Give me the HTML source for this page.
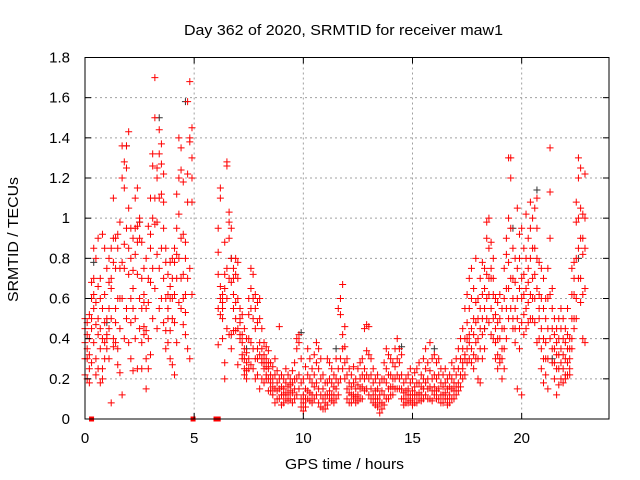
<!DOCTYPE html>
<html><head><meta charset="utf-8"><style>
body{margin:0;background:#fff}
svg{display:block;font-family:"Liberation Sans","DejaVu Sans",sans-serif}
</style></head><body>
<svg id="chart" width="640" height="480" viewBox="0 0 640 480">
<rect width="640" height="480" fill="#fff"/>
<g id="grid"></g>
<g id="marks"></g>
<g id="axes"></g>
<text x="343.5" y="35" font-size="15" text-anchor="middle" textLength="319" lengthAdjust="spacingAndGlyphs" fill="#000">Day 362 of 2020, SRMTID for receiver maw1</text>
<text x="344.5" y="469" font-size="15" text-anchor="middle" textLength="119" lengthAdjust="spacingAndGlyphs" fill="#000">GPS time / hours</text>
<text x="0" y="0" font-size="15" text-anchor="middle" textLength="125" lengthAdjust="spacingAndGlyphs" fill="#000" transform="translate(18,239.5) rotate(-90)">SRMTID / TECUs</text>
</svg>
<script>
const xTicks=[0,5,10,15,20];
const yTicks=[0,0.2,0.4,0.6,0.8,1,1.2,1.4,1.6,1.8];
const yTickLabels=["0","0.2","0.4","0.6","0.8","1","1.2","1.4","1.6","1.8"];
const redTimes=[0.0,0.1,0.2,0.3,0.4,0.5,0.6,0.7,0.8,0.9,1.0,1.1,1.2,1.3,1.4,1.5,1.6,1.7,1.8,1.9,2.0,2.1,2.2,2.3,2.4,2.5,2.6,2.7,2.8,2.9,3.0,3.1,3.2,3.3,3.4,3.5,3.6,3.7,3.8,3.9,4.0,4.1,4.2,4.3,4.4,4.5,4.6,4.7,4.8,4.9,
6.1,6.2,6.3,6.4,6.5,6.6,6.7,6.8,6.9,7.0,7.1,7.2,7.3,7.4,7.5,7.6,7.7,7.8,7.9,8.0,8.1,8.2,8.3,8.4,
8.5,8.6,8.7,8.8,8.9,9.0,9.1,9.2,9.3,9.4,9.5,9.6,9.7,9.8,9.9,10.0,10.1,10.2,10.3,10.4,10.5,10.6,10.7,10.8,10.9,11.0,11.1,11.2,11.3,11.4,11.5,11.6,11.7,11.8,11.9,12.0,12.1,12.2,12.3,12.4,12.5,12.6,12.7,12.8,12.9,13.0,13.1,13.2,13.3,13.4,13.5,13.6,13.7,13.8,13.9,14.0,14.1,14.2,14.3,14.4,14.5,14.6,14.7,14.8,14.9,15.0,15.1,15.2,15.3,15.4,15.5,15.6,15.7,15.8,15.9,16.0,16.1,16.2,16.3,16.4,16.5,16.6,16.7,16.8,16.9,17.0,17.1,17.2,
17.3,17.4,17.5,17.6,17.7,17.8,17.9,18.0,18.1,18.2,18.3,18.4,18.5,18.6,18.7,18.8,18.9,19.0,19.1,19.2,19.3,19.4,19.5,19.6,19.7,19.8,19.9,20.0,20.1,20.2,20.3,20.4,20.5,20.6,20.7,20.8,20.9,21.0,21.1,21.2,21.3,21.4,21.5,21.6,21.7,21.8,21.9,22.0,22.1,22.2,22.3,22.4,22.5,22.6,22.7,22.8,22.9];
const redValues=[
[0.3,0.45,0.38,0.22,0.5],[0.42,0.2,0.35,0.3,0.48],[0.18,0.52,0.4,0.32,0.25],[0.6,0.45,0.68,0.5,0.28],[0.7,0.85,0.55,0.38,0.62],
[0.8,0.47,0.3,0.58,0.22],[0.5,0.9,0.66,0.25,0.42],[0.18,0.35,0.6,0.45,0.7],[0.25,0.4,0.55,0.92,0.2],[0.3,0.48,0.85,0.38,0.62],
[0.4,0.5,0.35,0.75,0.42],[0.55,0.45,0.68,0.8,0.3],[0.85,0.65,0.08,0.5,0.7],[0.4,0.9,0.78,0.36,1.1],[0.38,0.48,0.75,0.9,0.55],
[0.92,0.85,0.6,0.35,0.27],[0.75,0.98,0.45,0.6,0.23],[1.36,1.2,0.6,0.12,0.78],[1.28,1.15,0.87,0.75,0.4],[1.36,1.25,0.95,0.55,0.5],
[1.43,1.05,0.72,0.38,0.85],[0.95,0.8,0.6,0.48,0.3],[0.9,0.74,0.55,0.24,0.65],[1.1,0.82,0.5,0.4,0.95],[1.15,0.96,0.72,0.25,0.88],
[0.98,0.9,0.6,0.45,1.0],[0.88,0.7,0.55,0.38,0.25],[0.75,0.46,0.62,0.58,0.42],[0.55,0.44,0.15,0.8,0.3],[0.96,0.7,0.4,0.25,0.58],
[1.1,0.92,0.68,0.32,0.85],[1.32,1.26,1.0,0.75,0.5],[1.7,1.5,0.97,0.65,1.1],[1.25,1.2,0.98,0.82,0.45],[1.44,1.32,1.1,0.75,0.55],
[1.37,1.27,1.12,0.85,0.6],[1.22,1.08,0.95,0.7,0.48],[0.85,0.78,0.6,0.35,0.44],[0.62,0.5,0.38,0.72,0.55],[0.78,0.6,0.44,0.3,0.66],
[0.8,0.7,0.6,0.5,0.27],[0.85,0.62,0.48,0.22,0.78],[1.12,0.95,0.82,0.7,0.38],[1.4,1.2,1.02,0.8,0.58],[1.35,1.24,0.9,0.7,0.55],
[1.18,0.92,0.72,0.6,0.47],[0.88,0.8,0.62,0.53,0.42],[1.58,1.22,1.08,0.7,0.35],[1.68,1.4,1.38,0.75,0.3],[1.45,1.3,1.2,1.08,0.62],
[0.95,0.83,0.72,0.55,0.37],[1.15,1.1,0.66,0.6,0.52],[0.62,0.58,0.55,0.4,0.5],[0.88,0.72,0.65,0.28,0.2],[1.28,1.26,0.75,0.6,0.45],
[1.03,0.98,0.9,0.7,0.42],[0.95,0.8,0.68,0.42,0.35],[0.75,0.7,0.62,0.55,0.44],[0.8,0.72,0.58,0.5,0.44],[0.78,0.7,0.6,0.45,0.27],
[0.55,0.5,0.48,0.42,0.4],[0.52,0.42,0.38,0.32,0.3],[0.45,0.35,0.3,0.25,0.22],[0.4,0.33,0.28,0.24,0.2],[0.6,0.52,0.4,0.3,0.25],
[0.75,0.65,0.55,0.38,0.27],[0.72,0.6,0.5,0.35,0.25],[0.62,0.55,0.45,0.3,0.2],[0.58,0.48,0.35,0.3,0.22],[0.6,0.5,0.38,0.32,0.15],
[0.45,0.35,0.3,0.28,0.2],[0.38,0.32,0.28,0.25,0.18],[0.36,0.3,0.26,0.22,0.2],[0.34,0.28,0.25,0.2,0.14],
[0.28,0.22,0.18,0.14],[0.26,0.2,0.16,0.12],[0.3,0.22,0.15,0.08],[0.24,0.18,0.14,0.1],[0.46,0.2,0.15,0.1],
[0.22,0.16,0.12,0.07],[0.2,0.15,0.12,0.08],[0.25,0.18,0.13,0.1],[0.22,0.16,0.12,0.09],[0.2,0.17,0.14,0.1],
[0.24,0.18,0.13,0.08],[0.28,0.2,0.15,0.1],[0.4,0.35,0.2,0.12],[0.42,0.38,0.22,0.15],[0.3,0.18,0.1,0.06],
[0.2,0.12,0.08,0.04],[0.26,0.15,0.1,0.06],[0.35,0.22,0.14,0.1],[0.3,0.2,0.13,0.09],[0.25,0.18,0.12,0.08],
[0.32,0.22,0.16,0.1],[0.38,0.28,0.18,0.12],[0.35,0.25,0.15,0.08],[0.3,0.2,0.12,0.06],[0.22,0.15,0.1,0.05],
[0.18,0.12,0.08,0.05],[0.3,0.18,0.12,0.07],[0.28,0.2,0.14,0.1],[0.25,0.18,0.12,0.09],[0.22,0.16,0.12,0.08],
[0.3,0.2,0.15,0.1],[0.55,0.25,0.18,0.12],[0.6,0.52,0.3,0.2],[0.67,0.42,0.35,0.25],[0.46,0.36,0.28,0.2],
[0.3,0.22,0.15,0.1],[0.25,0.18,0.13,0.08],[0.22,0.16,0.12,0.08],[0.26,0.18,0.12,0.1],[0.2,0.15,0.11,0.08],
[0.25,0.17,0.12,0.09],[0.28,0.2,0.15,0.1],[0.3,0.22,0.16,0.1],[0.45,0.25,0.2,0.14],[0.47,0.34,0.22,0.15],
[0.46,0.32,0.2,0.12],[0.3,0.22,0.15,0.1],[0.25,0.18,0.12,0.08],[0.2,0.14,0.1,0.07],[0.22,0.15,0.1,0.06],
[0.18,0.12,0.08,0.03],[0.2,0.14,0.08,0.05],[0.28,0.2,0.12,0.07],[0.35,0.25,0.18,0.1],[0.32,0.22,0.15,0.1],
[0.3,0.22,0.16,0.12],[0.28,0.2,0.16,0.12],[0.35,0.26,0.2,0.15],[0.4,0.3,0.22,0.15],[0.35,0.28,0.2,0.15],
[0.32,0.22,0.15,0.1],[0.18,0.13,0.1,0.07],[0.2,0.14,0.1,0.08],[0.22,0.15,0.12,0.08],[0.25,0.18,0.12,0.09],
[0.2,0.14,0.1,0.07],[0.23,0.16,0.12,0.08],[0.25,0.18,0.12,0.08],[0.28,0.18,0.13,0.1],[0.22,0.16,0.12,0.09],
[0.3,0.2,0.15,0.1],[0.35,0.25,0.18,0.12],[0.28,0.2,0.15,0.1],[0.38,0.24,0.16,0.1],[0.3,0.2,0.14,0.09],
[0.32,0.22,0.16,0.12],[0.28,0.2,0.14,0.1],[0.3,0.22,0.15,0.1],[0.25,0.18,0.12,0.08],[0.22,0.16,0.12,0.08],
[0.25,0.18,0.13,0.1],[0.2,0.15,0.1,0.07],[0.22,0.16,0.12,0.08],[0.28,0.2,0.15,0.1],[0.25,0.18,0.14,0.1],
[0.3,0.22,0.16,0.12],[0.35,0.25,0.18,0.14],[0.4,0.3,0.22,0.16],
[0.45,0.35,0.28,0.2,0.25],[0.55,0.4,0.3,0.22,0.32],[0.62,0.48,0.35,0.28,0.4],[0.7,0.55,0.42,0.3,0.38],[0.75,0.6,0.45,0.35,0.28],
[0.65,0.5,0.42,0.32,0.25],[0.8,0.58,0.48,0.38,0.3],[0.6,0.5,0.4,0.3,0.2],[0.7,0.55,0.45,0.35,0.18],[0.78,0.62,0.5,0.42,0.3],
[0.75,0.65,0.55,0.45,0.35],[0.98,0.9,0.72,0.6,0.5],[1.0,0.85,0.7,0.62,0.48],[0.88,0.75,0.7,0.55,0.42],[0.8,0.7,0.62,0.5,0.4],
[0.6,0.52,0.45,0.38,0.3],[0.58,0.48,0.4,0.32,0.25],[0.62,0.5,0.4,0.3,0.28],[0.55,0.45,0.35,0.3,0.2],[0.75,0.6,0.45,0.35,0.25],
[0.9,0.82,0.65,0.55,0.4],[1.3,1.0,0.78,0.65,0.5],[1.3,1.2,0.95,0.7,0.55],[0.85,0.7,0.6,0.5,0.45],[0.8,0.68,0.55,0.45,0.38],
[1.05,0.75,0.6,0.5,0.15],[0.92,0.8,0.65,0.45,0.35],[0.95,0.7,0.6,0.48,0.12],[0.85,0.72,0.62,0.52,0.42],[1.02,0.8,0.65,0.55,0.45],
[0.9,0.75,0.68,0.58,0.48],[1.08,0.95,0.8,0.62,0.5],[1.0,0.85,0.7,0.6,0.5],[1.05,0.85,0.72,0.6,0.48],[1.1,0.95,0.8,0.65,0.38],
[0.78,0.62,0.55,0.5,0.4],[0.75,0.6,0.45,0.35,0.25],[0.7,0.55,0.4,0.3,0.18],[0.6,0.5,0.38,0.3,0.22],[0.75,0.6,0.45,0.3,0.15],
[1.35,1.13,0.9,0.62,0.4],[0.65,0.55,0.45,0.35,0.28],[0.5,0.42,0.35,0.28,0.2],[0.45,0.38,0.32,0.25,0.12],[0.5,0.4,0.32,0.25,0.17],
[0.55,0.45,0.35,0.28,0.2],[0.5,0.4,0.32,0.25,0.18],[0.45,0.38,0.3,0.22,0.2],[0.55,0.42,0.35,0.28,0.22],[0.4,0.35,0.3,0.25,0.22],
[0.75,0.62,0.5,0.4,0.35],[0.78,0.7,0.62,0.5,0.45],[1.08,0.98,0.8,0.6,0.5],[1.3,1.2,1.0,0.85,0.7],[1.25,1.05,0.9,0.7,0.58],
[1.02,0.9,0.82,0.62,0.4],[1.22,1.0,0.85,0.65,0.38]];
const blackTimes=[0.4,1.0,1.9,2.5,3.4,4.6,6.7,7.4,9.9,11.5,14.5,16.0,18.3,19.6,20.7,21.4,22.6];
const blackValues=[0.78,0.48,1.36,0.98,1.5,1.58,0.8,0.35,0.43,0.35,0.36,0.35,0.45,0.95,1.14,0.3,0.8];
const zeroTimes=[0.3,4.95,6.0,6.1];

const X0=85,X1=609,Y0=419,Y1=57.5,XMAX=24,YMAX=1.8;
const xs=t=>X0+(X1-X0)*t/XMAX;
const ys=v=>Y0-(Y0-Y1)*v/YMAX;
const NS="http://www.w3.org/2000/svg";
function mk(tag,attrs,parent){const e=document.createElementNS(NS,tag);for(const k in attrs)e.setAttribute(k,attrs[k]);parent.appendChild(e);return e;}
const grid=document.getElementById('grid'),marks=document.getElementById('marks'),axes=document.getElementById('axes');

xTicks.forEach(t=>{
  if(t>0){const g=mk('line',{x1:xs(t),x2:xs(t),y1:Y1,y2:Y0,stroke:'#a0a0a0','stroke-dasharray':'2,3','stroke-width':1},grid);
  
  }
  const l=mk('text',{x:xs(t),y:Y0+24,'font-size':15,'text-anchor':'middle',fill:'#000'},axes);l.textContent=t;
  
  
  mk('line',{x1:xs(t),x2:xs(t),y1:Y0,y2:Y0-6,stroke:'#000'},axes);
  mk('line',{x1:xs(t),x2:xs(t),y1:Y1,y2:Y1+6,stroke:'#000'},axes);
});
yTicks.forEach((v,i)=>{
  if(v>0&&v<YMAX){const g=mk('line',{x1:X0,x2:X1,y1:ys(v),y2:ys(v),stroke:'#a0a0a0','stroke-dasharray':'2,3','stroke-width':1},grid);
  
  }
  const l=mk('text',{x:70,y:ys(v)+5,'font-size':15,'text-anchor':'end',fill:'#000'},axes);l.textContent=yTickLabels[i];
  
  
  mk('line',{x1:X0,x2:X0+6,y1:ys(v),y2:ys(v),stroke:'#000'},axes);
  mk('line',{x1:X1,x2:X1-6,y1:ys(v),y2:ys(v),stroke:'#000'},axes);
});
const frame=mk('rect',{x:X0,y:Y1,width:X1-X0,height:Y0-Y1,fill:'none',stroke:'#000','stroke-width':1},axes);



function cross(x,y,color,name){
  const p=mk('path',{d:`M${x-3.5},${y}H${x+3.5}M${x},${y-3.5}V${y+3.5}`,stroke:color,'stroke-width':1,fill:'none'},marks);
  
  
}
blackTimes.forEach((t,i)=>cross(xs(t),ys(blackValues[i]),'#333','black-point'));
redTimes.forEach((t,i)=>redValues[i].forEach(v=>cross(xs(t),ys(v),'#ff0000','red-point')));
zeroTimes.forEach(t=>{
  const r=mk('rect',{x:xs(t)-2.5,y:Y0-2.5,width:5,height:5,fill:'#ff0000'},marks);
  
  
});
</script>
</body></html>
